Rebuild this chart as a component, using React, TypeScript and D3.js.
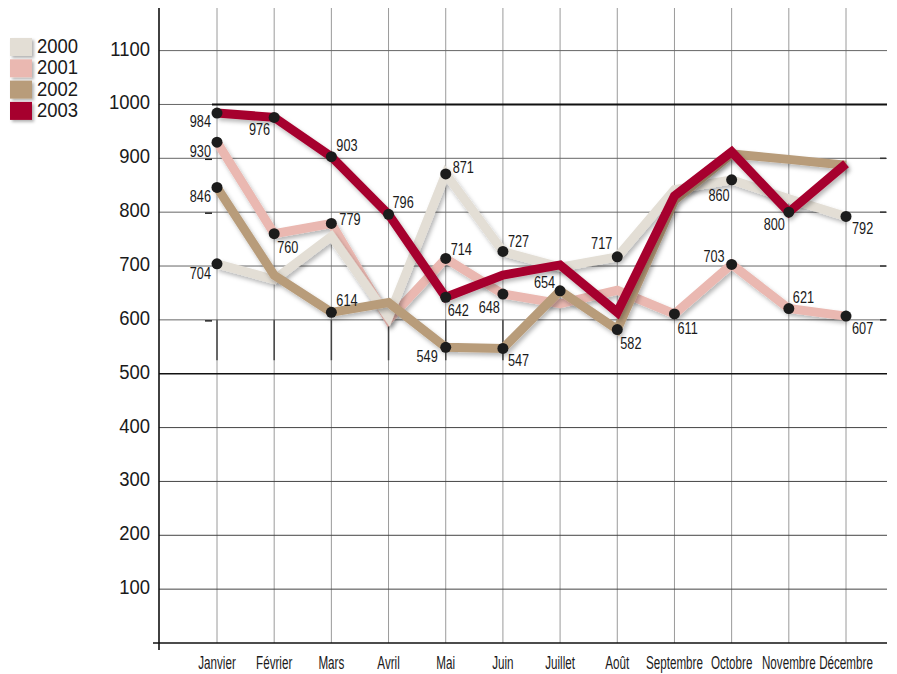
import React from "react";
import * as d3 from "d3";

const months = ["Janvier", "Février", "Mars", "Avril", "Mai", "Juin", "Juillet", "Août", "Septembre", "Octobre", "Novembre", "Décembre"];
const years = ["2000", "2001", "2002", "2003"];
const yTicks = [100, 200, 300, 400, 500, 600, 700, 800, 900, 1000, 1100];

const values2000 = [704, 675, 755, 605, 871, 727, 698, 717, 842, 860, 825, 792];
const values2001 = [930, 760, 779, 600, 714, 648, 630, 655, 611, 703, 621, 607];
const values2002 = [846, 683, 614, 632, 549, 547, 654, 582, 822, 908, 898, 887];
const values2003 = [984, 976, 903, 796, 642, 683, 702, 614, 830, 912, 800, 890];

// indices of points that carry a dot and a value label
const labeled2000 = [0, 4, 5, 7, 9, 11];
const labeled2001 = [0, 1, 2, 4, 5, 8, 9, 10, 11];
const labeled2002 = [0, 2, 4, 5, 6, 7];
const labeled2003 = [0, 1, 2, 3, 4, 10];

// label placement [dx, dy, anchor] relative to dot, per series
const place2000: [number, number, string][] = [[-6, 15, "end"], [7, -1, "start"], [5, -4, "start"], [-5, -8, "end"], [-2, 21, "end"], [6, 18, "start"]];
const place2001: [number, number, string][] = [[-6, 15, "end"], [3, 19, "start"], [8, 2, "start"], [5, -3, "start"], [-3, 19, "end"], [3, 20, "start"], [-7, -2, "end"], [4, -6, "start"], [6, 18, "start"]];
const place2002: [number, number, string][] = [[-6, 15, "end"], [5, -6, "start"], [-8, 15, "end"], [5, 18, "start"], [-5, -3, "end"], [3, 19, "start"]];
const place2003: [number, number, string][] = [[-6, 14, "end"], [-4, 18, "end"], [5, -6, "start"], [4, -6, "start"], [2, 19, "start"], [-4, 18, "end"]];

const colors = ["#e3ded5", "#eab8b1", "#b89c7a", "#a6002f"];

const W = 897;
const H = 674;

export default function App() {
  const x = d3.scalePoint<string>().domain(months).range([217, 846]);
  const y = d3.scaleLinear().domain([0, 1100]).range([643, 50.6]);

  const series = [
    { name: years[0], values: values2000, labeled: labeled2000, place: place2000, color: colors[0] },
    { name: years[1], values: values2001, labeled: labeled2001, place: place2001, color: colors[1] },
    { name: years[2], values: values2002, labeled: labeled2002, place: place2002, color: colors[2] },
    { name: years[3], values: values2003, labeled: labeled2003, place: place2003, color: colors[3] },
  ];
  const drawOrder = [1, 0, 2, 3];

  const line = d3
    .line<number>()
    .x((_, i) => x(months[i]) as number)
    .y((v) => y(v));

  const mainFont = "'Liberation Sans', Arial, Helvetica, sans-serif";

  const axisX = 159;
  const rightX = 887;

  return (
    <svg width={W} height={H} style={{ position: "absolute", left: 0, top: 0, background: "#fff" }}>
      <defs>
        <filter id="sh" x="-10%" y="-10%" width="120%" height="130%">
          <feDropShadow dx="2" dy="3" stdDeviation="2" floodColor="#000" floodOpacity="0.28" />
        </filter>
        <filter id="shs" x="-20%" y="-20%" width="150%" height="150%">
          <feDropShadow dx="2" dy="2" stdDeviation="1.5" floodColor="#000" floodOpacity="0.3" />
        </filter>
      </defs>

      {/* vertical gridlines */}
      {months.map((m) => (
        <line key={"v" + m} x1={x(m)} x2={x(m)} y1={8} y2={y(0)} stroke="#9a9a9a" strokeWidth={1} />
      ))}
      {months.slice(0, 6).map((m) => (
        <line key={"vd" + m} x1={x(m)} x2={x(m)} y1={y(600)} y2={y(525)} stroke="#444" strokeWidth={1.5} />
      ))}

      {/* horizontal gridlines */}
      {yTicks.map((t) => (
        <line
          key={"h" + t}
          x1={axisX}
          x2={rightX}
          y1={y(t)}
          y2={y(t)}
          stroke={t === 500 ? "#111" : t < 500 ? "#444" : "#666"}
          strokeWidth={t === 500 ? 1.3 : 1}
        />
      ))}
      <line x1={(x(months[0]) as number) - 5} x2={rightX} y1={y(1000)} y2={y(1000)} stroke="#111" strokeWidth={2} />
      {[900, 800, 600].map((t) => (
        <line key={"tk" + t} x1={205} x2={212} y1={y(t) + 1} y2={y(t) + 1} stroke="#222" strokeWidth={1.5} />
      ))}
      {[900, 800, 700, 600].map((t) => (
        <line key={"tr" + t} x1={880} x2={886} y1={y(t)} y2={y(t)} stroke="#333" strokeWidth={1.5} />
      ))}

      {/* axes */}
      <line x1={axisX} x2={axisX} y1={8} y2={650} stroke="#111" strokeWidth={1.6} />
      <line x1={153} x2={rightX} y1={y(0)} y2={y(0)} stroke="#111" strokeWidth={1.6} />

      {/* y tick labels */}
      {yTicks.map((t) => (
        <g key={"yl" + t} transform={`translate(150,${y(t) + 5}) scale(0.9,1)`}>
          <text x={0} y={0} textAnchor="end" fontFamily={mainFont} fontSize={20.5} fill="#1a1a1a">
            {t}
          </text>
        </g>
      ))}

      {/* x labels */}
      {months.map((m) => (
        <g key={"xl" + m} transform={`translate(${x(m)},669) scale(0.63,1)`}>
          <text x={0} y={0} textAnchor="middle" fontFamily={mainFont} fontSize={18.5} fill="#1a1a1a">
            {m}
          </text>
        </g>
      ))}

      {/* lines */}
      {drawOrder.map((si) => {
        const s = series[si];
        return (
          <path
            key={"l" + s.name}
            d={line(s.values) as string}
            fill="none"
            stroke={s.color}
            strokeWidth={9}
            strokeLinejoin="miter"
            strokeLinecap="butt"
            filter="url(#sh)"
          />
        );
      })}

      {/* dots */}
      {series.map((s) =>
        s.labeled.map((i) => (
          <circle key={"d" + s.name + i} cx={x(months[i])} cy={y(s.values[i])} r={5.5} fill="#1c1c1c" />
        ))
      )}

      {/* value labels */}
      {series.map((s) =>
        s.labeled.map((i, k) => {
          const [dx, dy, anchor] = s.place[k];
          return (
            <g
              key={"t" + s.name + i}
              transform={`translate(${(x(months[i]) as number) + dx},${y(s.values[i]) + dy}) scale(0.77,1)`}
            >
              <text x={0} y={0} textAnchor={anchor as any} fontFamily={mainFont} fontSize={16.5} fill="#1a1a1a">
                {s.values[i]}
              </text>
            </g>
          );
        })
      )}

      {/* legend */}
      {series.map((s, i) => (
        <g key={"lg" + s.name}>
          <rect x={10} y={38 + i * 21.3} width={22} height={18} fill={s.color} filter="url(#shs)" />
          <g transform={`translate(37,${53 + i * 21.3}) scale(0.9,1)`}>
            <text x={0} y={0} fontFamily={mainFont} fontSize={20.5} fill="#1a1a1a">
              {s.name}
            </text>
          </g>
        </g>
      ))}
    </svg>
  );
}
